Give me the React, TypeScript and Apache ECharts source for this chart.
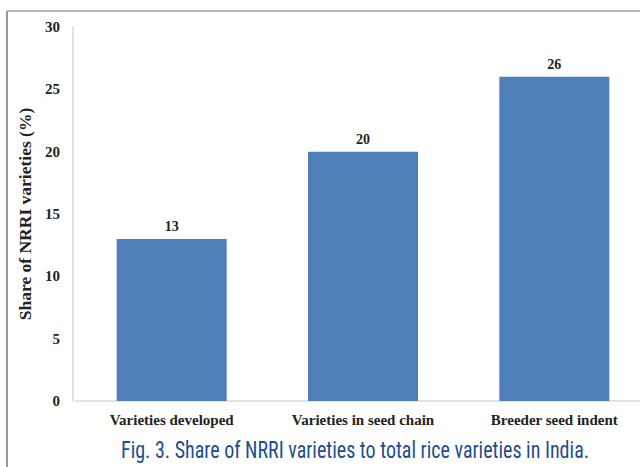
import React, { useEffect, useRef } from "react";
import * as echarts from "echarts";

const categories = ["Varieties developed", "Varieties in seed chain", "Breeder seed indent"];
const shares = [13, 20, 26];
const yTicks = { min: 0, max: 30, interval: 5 };
const yAxisName = "Share of NRRI varieties (%)";
const caption = "Fig. 3. Share of NRRI varieties to total rice varieties in India.";

const serif = "'Liberation Serif', 'Times New Roman', 'DejaVu Serif', serif";

export default function App() {
  const ref = useRef<HTMLDivElement>(null);
  useEffect(() => {
    if (!ref.current) return;
    const chart = echarts.init(ref.current, undefined, { renderer: "svg" });
    chart.setOption({
      animation: false,
      backgroundColor: "#ffffff",
      grid: { left: 76, top: 27, width: 574, bottom: 66, containLabel: false },
      xAxis: {
        type: "category",
        data: categories,
        axisLine: { show: true, lineStyle: { color: "#d9d9d9", width: 1.5 } },
        axisTick: { show: false },
        axisLabel: {
          interval: 0,
          margin: 11,
          fontFamily: serif,
          fontWeight: "bold",
          fontSize: 15,
          color: "#222222",
        },
      },
      yAxis: {
        type: "value",
        min: yTicks.min,
        max: yTicks.max,
        interval: yTicks.interval,
        offset: 3,
        name: yAxisName,
        nameLocation: "middle",
        nameGap: 37,
        nameRotate: 90,
        nameTextStyle: {
          fontFamily: serif,
          fontWeight: "bold",
          fontSize: 17.5,
          color: "#222222",
        },
        axisLine: { show: true, lineStyle: { color: "#d9d9d9", width: 1.5 } },
        axisTick: { show: false },
        splitLine: { show: false },
        axisLabel: {
          margin: 13,
          fontFamily: serif,
          fontWeight: "bold",
          fontSize: 15,
          color: "#222222",
        },
      },
      series: [
        {
          type: "bar",
          data: shares,
          barWidth: 110,
          itemStyle: { color: "#4f7fb8" },
          label: {
            show: true,
            position: "top",
            distance: 5,
            fontFamily: serif,
            fontWeight: "bold",
            fontSize: 14,
            color: "#222222",
          },
        },
      ],
      graphic: [
        {
          type: "line",
          shape: { x1: 7, y1: 11, x2: 7, y2: 467 },
          style: { stroke: "#777777", lineWidth: 1.5 },
        },
        {
          type: "line",
          shape: { x1: 7, y1: 11, x2: 640, y2: 11 },
          style: { stroke: "#a0a0a0", lineWidth: 1.5 },
        },
        {
          type: "text",
          x: 355,
          y: 450,
          scaleY: 1.2,
          style: {
            text: caption,
            fill: "#1e4d8e",
            font: "20px 'Liberation Sans Narrow', 'Roboto Condensed', 'Arial Narrow', sans-serif",
            align: "center",
            verticalAlign: "middle",
          },
        },
      ],
    });
    return () => chart.dispose();
  }, []);
  return (
    <div
      ref={ref}
      style={{ position: "fixed", left: 0, top: 0, width: 660, height: 467 }}
    />
  );
}
